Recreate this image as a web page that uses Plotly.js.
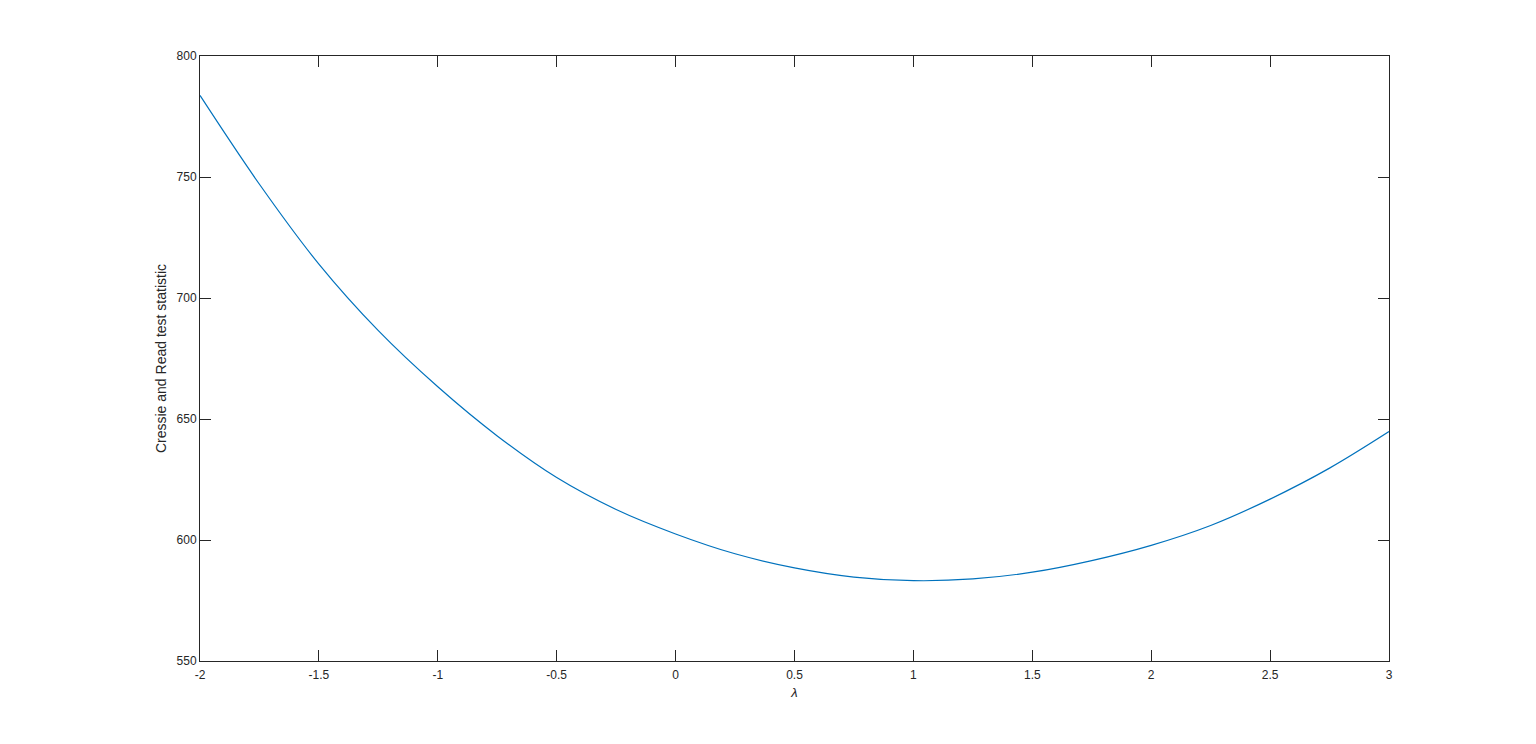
<!DOCTYPE html>
<html>
<head>
<meta charset="utf-8">
<script src="https://cdn.plot.ly/plotly-3.0.1.min.js"></script>
<style>html,body{margin:0;padding:0;background:#fff;}#chart{width:1536px;height:744px;}</style>
</head>
<body>
<div id="chart"></div>
<script>
const lambdaValues = [-2, -1.75, -1.5, -1.25, -1, -0.75, -0.5, -0.25, 0, 0.25, 0.5, 0.75, 1, 1.25, 1.5, 1.75, 2, 2.25, 2.5, 2.75, 3];
const statValues = [783.7, 747.0, 714.0, 686.5, 663.3, 643.0, 625.8, 612.6, 602.5, 594.3, 588.5, 584.7, 583.2, 583.9, 586.7, 591.5, 597.8, 606.0, 616.9, 629.7, 644.8];
const xTickVals = [-2, -1.5, -1, -0.5, 0, 0.5, 1, 1.5, 2, 2.5, 3];
const xTickText = ["-2", "-1.5", "-1", "-0.5", "0", "0.5", "1", "1.5", "2", "2.5", "3"];
const yTickVals = [550, 600, 650, 700, 750, 800];
const yTickText = ["550", "600", "650", "700", "750", "800"];

const axisColor = '#262626';
const fontFam = 'Liberation Sans, Arial, Helvetica, sans-serif';

const trace = {
  x: lambdaValues,
  y: statValues,
  type: 'scatter',
  mode: 'lines',
  line: {color: '#0072BD', width: 1.2, shape: 'spline', smoothing: 1},
  hoverinfo: 'x+y'
};

const layout = {
  width: 1536,
  height: 744,
  margin: {l: 200, r: 147, t: 56, b: 83, pad: 0},
  paper_bgcolor: '#ffffff',
  plot_bgcolor: '#ffffff',
  showlegend: false,
  font: {family: fontFam, size: 12, color: axisColor},
  xaxis: {
    range: [-2, 3],
    tickmode: 'array',
    tickvals: xTickVals,
    ticktext: xTickText,
    ticks: 'inside',
    ticklen: 11,
    tickwidth: 1,
    tickcolor: axisColor,
    ticklabelstandoff: 3,
    showline: true,
    linecolor: axisColor,
    linewidth: 1,
    mirror: 'ticks',
    showgrid: false,
    zeroline: false,
    tickfont: {family: fontFam, size: 12, color: axisColor},
    title: {text: '<i>λ</i>', font: {family: fontFam, size: 13, color: axisColor}, standoff: 6}
  },
  yaxis: {
    range: [550, 800],
    tickmode: 'array',
    tickvals: yTickVals,
    ticktext: yTickText,
    ticks: 'inside',
    ticklen: 11,
    tickwidth: 1,
    tickcolor: axisColor,
    showline: true,
    linecolor: axisColor,
    linewidth: 1,
    mirror: 'ticks',
    showgrid: false,
    zeroline: false,
    tickfont: {family: fontFam, size: 12, color: axisColor},
    title: {text: 'Cressie and Read test statistic', font: {family: fontFam, size: 14, color: axisColor}, standoff: 6}
  }
};

Plotly.newPlot('chart', [trace], layout, {displayModeBar: false, staticPlot: true});
</script>
</body>
</html>
